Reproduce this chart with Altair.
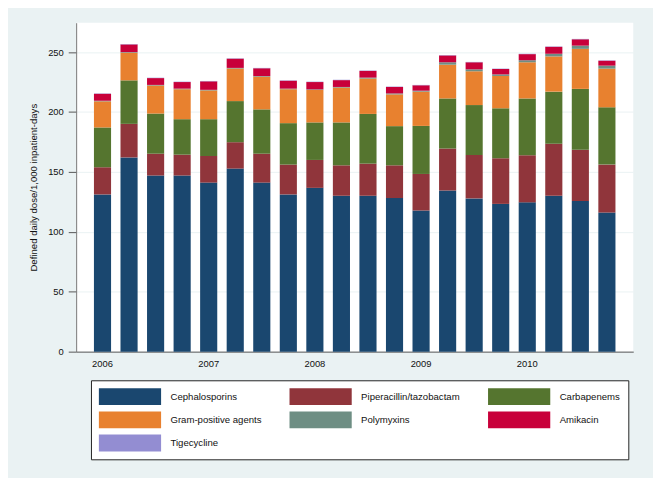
import altair as alt
import pandas as pd

quarters = [f"{y} Q{q}" for y in range(2006, 2011) for q in range(1, 5)]

classes = ["Cephalosporins", "Piperacillin/tazobactam", "Carbapenems",
           "Gram-positive agents", "Polymyxins", "Amikacin", "Tigecycline"]
colors = ["#1a476f", "#90353b", "#55752f", "#e8812f", "#6e8e84", "#c8003a", "#938dd2"]

cephalosporins = [131.2, 162.1, 147.0, 147.0, 141.1, 152.8, 141.1, 131.2, 136.7, 130.1,
                  130.1, 128.2, 117.8, 134.5, 127.9, 123.3, 124.6, 130.1, 125.7, 116.1]
piperacillin = [22.7, 28.0, 18.2, 17.4, 22.2, 22.0, 24.1, 24.9, 23.3, 25.4,
                26.8, 27.3, 30.5, 35.0, 36.2, 38.1, 39.3, 43.5, 42.7, 40.0]
carbapenems = [33.2, 36.3, 33.5, 29.6, 30.7, 34.3, 37.0, 34.6, 31.3, 35.8,
               41.5, 32.7, 40.1, 41.8, 41.7, 41.7, 47.4, 43.4, 50.9, 47.8]
gram_positive = [21.8, 23.1, 23.4, 25.0, 24.0, 27.2, 27.3, 28.3, 27.1, 29.1,
                 29.5, 26.5, 28.6, 28.2, 28.2, 27.0, 30.2, 29.4, 33.4, 32.3]
polymyxins = [0.5, 0.5, 0.5, 0.5, 0.5, 0.5, 0.5, 0.5, 0.5, 0.5,
              0.8, 0.8, 0.8, 2.0, 1.6, 1.3, 1.7, 2.2, 2.7, 2.5]
amikacin = [5.8, 6.4, 5.7, 5.5, 7.1, 7.7, 6.5, 6.6, 6.1, 5.7,
            5.6, 5.4, 4.5, 5.7, 5.9, 4.5, 5.1, 5.8, 5.3, 4.1]
tigecycline = [0.3] * 20

series = [cephalosporins, piperacillin, carbapenems, gram_positive,
          polymyxins, amikacin, tigecycline]

rows = []
for ci, (name, vals) in enumerate(zip(classes, series)):
    for q, v in zip(quarters, vals):
        rows.append({"quarter": q, "drug": name, "value": v, "order": ci})
df = pd.DataFrame(rows)

FONT = "Liberation Sans"

chart = alt.Chart(df).mark_bar().encode(
    x=alt.X("quarter:N", sort=quarters,
            scale=alt.Scale(paddingInner=0.355, paddingOuter=0.67),
            axis=alt.Axis(title=None, ticks=False, labelAngle=0, labelPadding=7,
                          labelExpr="indexof(datum.value,'Q1')>=0 ? slice(datum.value,0,4) : ''",
                          domainColor="#555", labelFontSize=9.5, labelColor="#111",
                          labelFont=FONT)),
    y=alt.Y("value:Q", stack="zero",
            scale=alt.Scale(domain=[0, 274.5], nice=False, zero=True),
            axis=alt.Axis(title="Defined daily dose/1,000 inpatient-days",
                          values=[0, 50, 100, 150, 200, 250], tickSize=8,
                          tickColor="#555", domainColor="#777", labelPadding=5,
                          labelFontSize=9.5, labelColor="#111", labelFont=FONT,
                          titleFont=FONT, titleFontSize=9.7, titleFontWeight="normal",
                          titleColor="#111", titlePadding=9,
                          gridColor="#eaf2f3", gridWidth=1)),
    color=alt.Color("drug:N",
                    scale=alt.Scale(domain=classes, range=colors),
                    legend=alt.Legend(title=None, orient="none", legendX=15, legendY=362,
                                      direction="horizontal", columns=3,
                                      symbolType="M-1,-1H6.41V1H-1Z",
                                      symbolSize=289, symbolStrokeWidth=0,
                                      symbolOpacity=1,
                                      labelFont=FONT, labelFontSize=9.7,
                                      labelColor="#111", labelOffset=55.5,
                                      labelLimit=300, columnPadding=28,
                                      rowPadding=6.5, padding=8,
                                      fillColor="white", strokeColor="#222")),
    order=alt.Order("order:Q", sort="ascending"),
).properties(
    width=564, height=333,
    autosize=alt.AutoSizeParams(type="none"),
    padding={"left": 69, "top": 12, "right": 20, "bottom": 125},
).configure(
    background="#eaf2f3",
).configure_view(
    fill="white", stroke=None,
)

chart.save("out.html", embed_options={"renderer": "svg", "actions": False})
